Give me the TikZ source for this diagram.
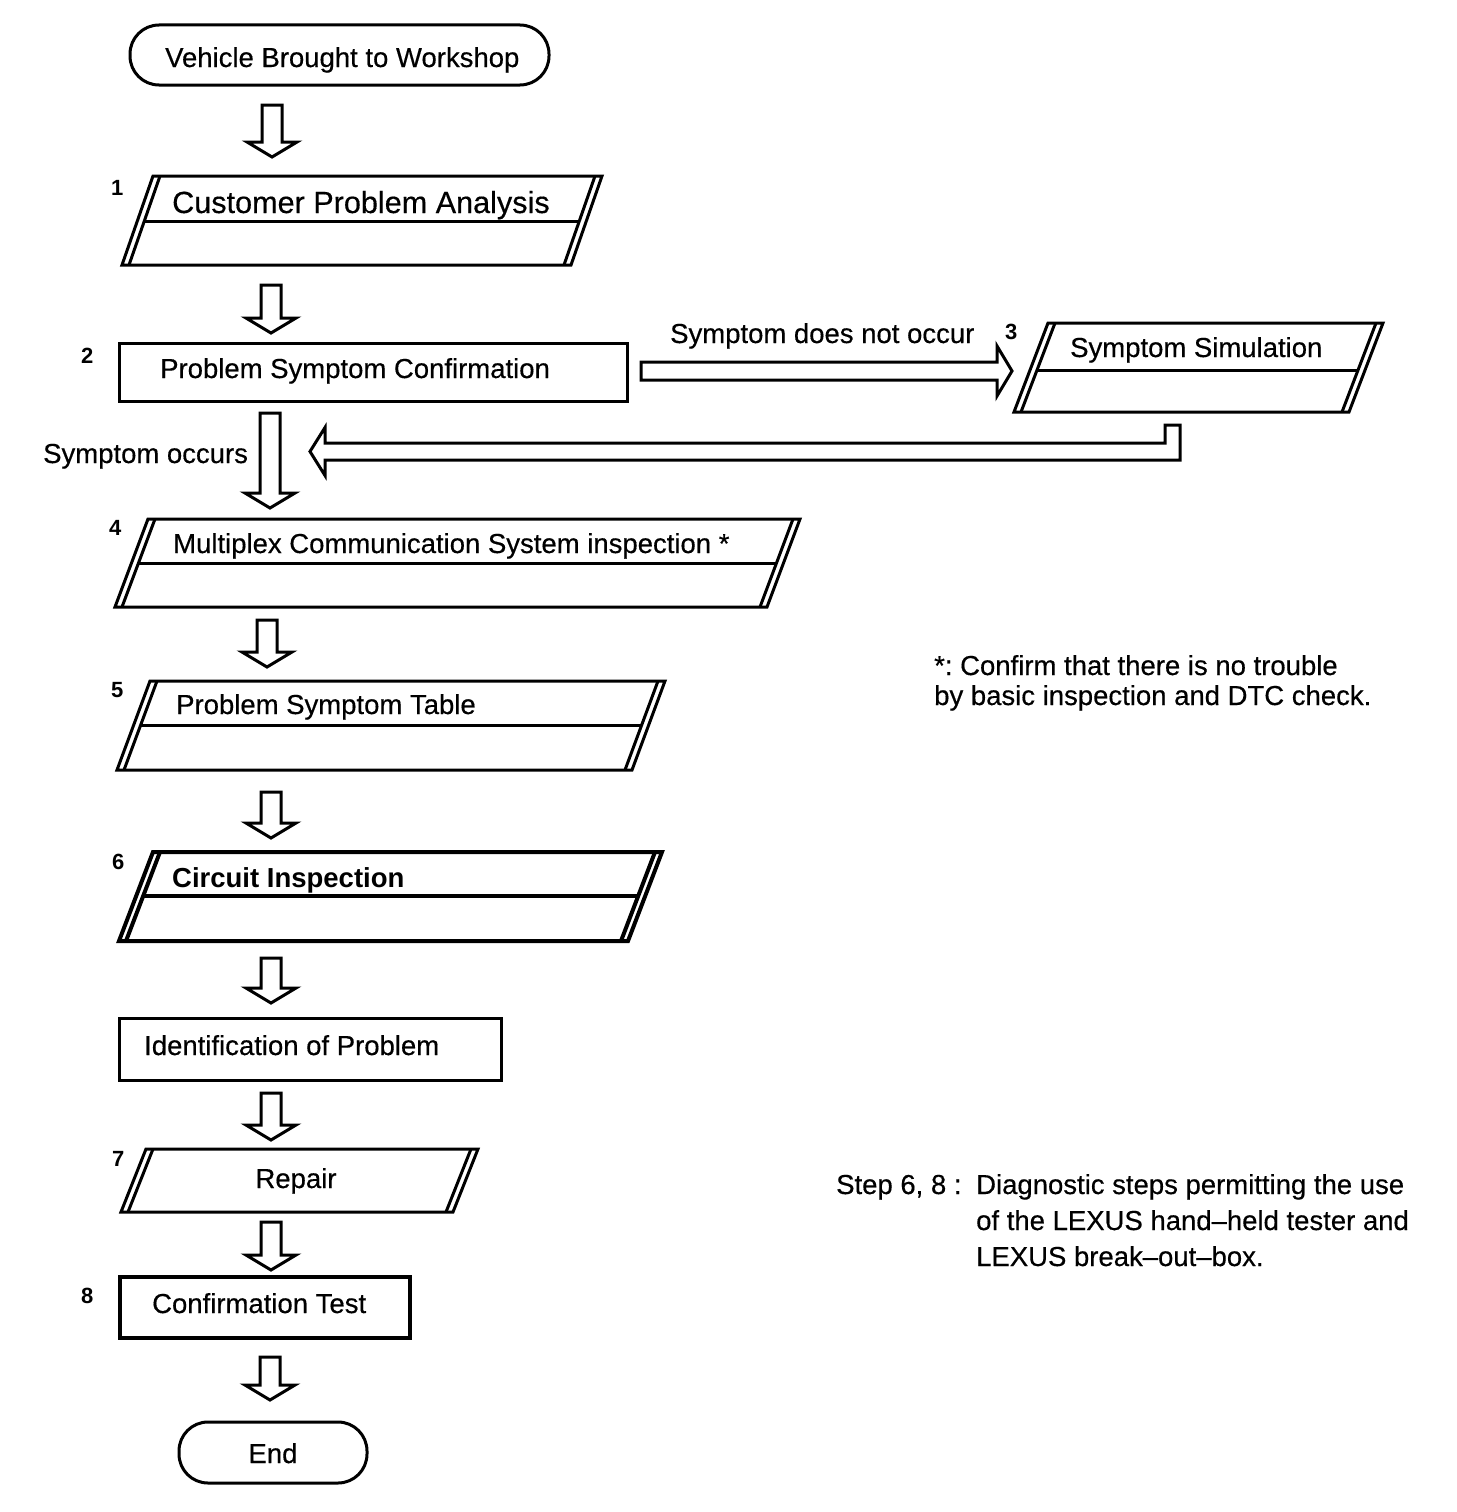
\documentclass[tikz,border=0pt]{standalone}
\usepackage{fontspec}
\setmainfont{Liberation Sans}[UprightFeatures={FakeBold=0.4}]
\usetikzlibrary{calc}
\frenchspacing
\tikzset{
  lbl/.style={inner sep=0pt, anchor=base west, font=\fontsize{27.5}{33}\selectfont},
  num/.style={inner sep=0pt, anchor=base west, font=\bfseries\fontsize{22}{26}\selectfont},
  outline/.style={line width=3pt, line join=miter},
  thick outline/.style={line width=4pt, line join=miter},
  blk/.style={line width=3pt, line join=miter, fill=white},
  terminal/.style={draw, line width=3pt, rounded corners=29pt, inner sep=0pt},
  procbox/.style={draw, line width=3pt, inner sep=0pt},
}
% #1 top y, #2 bottom y, #3 top-left x, #4 top-right x, #5 slant, #6 style
\newcommand{\ioshape}[6]{%
  \draw[#6] (#3,#1) -- (#4,#1) -- ({#4-#5},#2) -- ({#3-#5},#2) -- cycle;
  \draw[#6] ({#3+7},#1) -- ({#3+7-#5},#2);
  \draw[#6] ({#4-7},#1) -- ({#4-7-#5},#2);
}
% divider: #1 top y, #2 bottom y, #3 TL x, #4 TR x, #5 slant, #6 divider y, #7 style
\newcommand{\iodiv}[7]{%
  \draw[#7] ({#3+7-#5*(#6-#1)/(#2-#1)},#6) -- ({#4-7-#5*(#6-#1)/(#2-#1)},#6);
}
\newcommand{\blockdown}[2]{%
  \draw[blk] ($(#1)+(-10,0)$) -- ($(#1)+(10,0)$) -- ($(#2)+(10,-15)$) -- ($(#2)+(25,-15)$)
    -- (#2) -- ($(#2)+(-25,-15)$) -- ($(#2)+(-10,-15)$) -- cycle;}

\begin{document}
\begin{tikzpicture}[x=1pt,y=-1pt]
\useasboundingbox[fill=white] (0,0) rectangle (1456,1512);

% Start terminal
\node[terminal, minimum width=419pt, minimum height=60pt] (start) at (339.5,55) {};
\node[lbl] (starttxt) at (165,67) {Vehicle Brought to Workshop};

% Box 1
\ioshape{176}{265}{153}{602}{31}{outline}
\iodiv{176}{265}{153}{602}{31}{221}{outline}
\node[num] (n1) at (111,195) {1};
\node[lbl, font=\fontsize{30.6}{36}\selectfont] (b1) at (172,213) {Customer Problem Analysis};

% Box 2
\node[procbox, minimum width=508pt, minimum height=58pt] (b2) at (373,372) {};
\node[num] (n2) at (81,363) {2};
\node[lbl] (b2txt) at (160,378) {Problem Symptom Confirmation};

% Box 3
\ioshape{323}{412}{1048}{1383}{34}{outline}
\iodiv{323}{412}{1048}{1383}{34}{370}{outline}
\node[num] (n3) at (1005,339) {3};
\node[lbl] (b3) at (1070,357) {Symptom Simulation};
\node[lbl] (nooccur) at (670,343) {Symptom does not occur};
\node[lbl] (occurs) at (43,463) {Symptom occurs};

% Box 4
\ioshape{519}{607}{148}{800}{33}{outline}
\iodiv{519}{607}{148}{800}{33}{563}{outline}
\node[num] (n4) at (109,535) {4};
\node[lbl] (b4) at (173,553) {Multiplex Communication System inspection *};

% Box 5
\ioshape{681}{770}{150}{665}{33}{outline}
\iodiv{681}{770}{150}{665}{33}{725}{outline}
\node[num] (n5) at (111,697) {5};
\node[lbl] (b5) at (176,714) {Problem Symptom Table};

% Box 6
\ioshape{852}{941}{153}{662}{34}{thick outline}
\iodiv{852}{941}{153}{662}{34}{896}{thick outline}
\node[num] (n6) at (112,869) {6};
\node[lbl, font=\bfseries\fontsize{27.5}{33}\selectfont] (b6) at (172,887) {Circuit Inspection};

% Identification box
\node[procbox, minimum width=382pt, minimum height=62pt] (ident) at (310,1049) {};
\node[lbl] (identtxt) at (144,1055) {Identification of Problem};

% Box 7
\ioshape{1149}{1212}{146}{478}{25}{outline}
\node[num] (n7) at (112,1166) {7};
\node[lbl, anchor=base] (b7) at (296,1188) {Repair};

% Box 8
\node[procbox, line width=4pt, minimum width=290pt, minimum height=61pt] (b8) at (265,1307.5) {};
\node[num] (n8) at (81,1303) {8};
\node[lbl] (b8txt) at (152,1313) {Confirmation Test};

% End terminal
\node[terminal, minimum width=188pt, minimum height=61pt] (finish) at (273,1452.5) {};
\node[lbl, anchor=base] (endtxt) at (273,1463) {End};

% Notes
\node[lbl] (note1) at (934,675) {*: Confirm that there is no trouble};
\node[lbl] (note2) at (934,705) {by basic inspection and DTC check.};
\node[lbl] (step1) at (836,1194) {Step 6, 8 :};
\node[lbl] (step2) at (976,1194) {Diagnostic steps permitting the use};
\node[lbl] (step3) at (976,1230) {of the LEXUS hand--held tester and};
\node[lbl] (step4) at (976,1266) {LEXUS break--out--box.};

% Down arrows
\coordinate (a1s) at (272,105);  \coordinate (a1t) at (272,157);
\coordinate (a2s) at (271,285);  \coordinate (a2t) at (271,333);
\coordinate (a3s) at (270,413);  \coordinate (a3t) at (270,508);
\coordinate (a4s) at (267,620);  \coordinate (a4t) at (267,667);
\coordinate (a5s) at (271,792);  \coordinate (a5t) at (271,838);
\coordinate (a6s) at (271,958);  \coordinate (a6t) at (271,1003);
\coordinate (a7s) at (271,1093); \coordinate (a7t) at (271,1140);
\coordinate (a8s) at (271,1222); \coordinate (a8t) at (271,1270);
\coordinate (a9s) at (270,1357); \coordinate (a9t) at (270,1400);
\blockdown{a1s}{a1t}
\blockdown{a2s}{a2t}
\blockdown{a3s}{a3t}
\blockdown{a4s}{a4t}
\blockdown{a5s}{a5t}
\blockdown{a6s}{a6t}
\blockdown{a7s}{a7t}
\blockdown{a8s}{a8t}
\blockdown{a9s}{a9t}

% Right arrow to Symptom Simulation
\coordinate (hs) at (641,371);
\coordinate (ht) at (1012,371);
\draw[blk] ($(hs)+(0,-9)$) -- ($(ht)+(-15,-9)$) -- ($(ht)+(-15,-25)$) -- (ht)
  -- ($(ht)+(-15,25)$) -- ($(ht)+(-15,9)$) -- ($(hs)+(0,9)$) -- cycle;

% Return arrow from Symptom Simulation
\coordinate (r0) at (1172.5,425);
\coordinate (r1) at (310,451.5);
\draw[blk] ($(r0)+(-7.5,0)$) -- ($(r0)+(7.5,0)$) -- ($(r0|-r1)+(7.5,8.5)$)
  -- ($(r1)+(15,8.5)$) -- ($(r1)+(15,24)$) -- (r1) -- ($(r1)+(15,-24)$)
  -- ($(r1)+(15,-8.5)$) -- ($(r0|-r1)+(-7.5,-8.5)$) -- cycle;
\end{tikzpicture}
\end{document}
